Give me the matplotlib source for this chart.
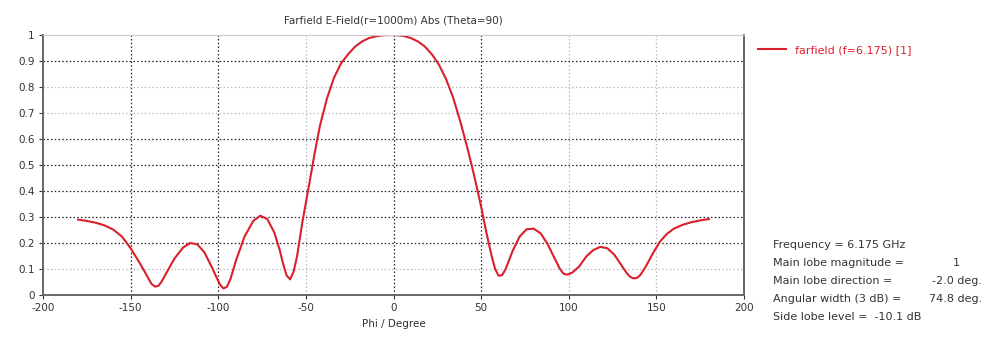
import numpy as np
import matplotlib
matplotlib.use("Agg")
import matplotlib.pyplot as plt

# farfield cut
phi = [-180, -175, -170, -165, -160, -155, -150, -145, -142, -140, -138, -136, -134,
       -132, -130, -125, -120, -116, -112, -108, -104, -101, -99, -97, -95, -93, -90,
       -85, -80, -76, -72, -68, -65, -63, -61, -59, -57, -55, -52, -48, -45, -42, -38,
       -34, -30, -26, -22, -18, -14, -10, -6, -2, 2, 6, 10, 14, 18, 22, 26, 30, 34, 38,
       42, 46, 50, 53, 56, 58, 60, 62, 64, 68, 72, 76, 80, 84, 88, 92, 95, 97, 99, 102,
       106, 110, 114, 118, 122, 126, 130, 133, 135, 137, 139, 141, 144, 148, 152, 156,
       160, 165, 170, 175, 180]
efield = [0.290, 0.285, 0.278, 0.268, 0.252, 0.225, 0.180, 0.125, 0.090, 0.065, 0.042,
          0.032, 0.036, 0.055, 0.080, 0.140, 0.183, 0.200, 0.195, 0.165, 0.112, 0.068,
          0.040, 0.025, 0.032, 0.062, 0.130, 0.225, 0.285, 0.305, 0.292, 0.240, 0.175,
          0.120, 0.075, 0.060, 0.090, 0.150, 0.280, 0.430, 0.545, 0.650, 0.755, 0.835,
          0.890, 0.925, 0.955, 0.975, 0.988, 0.995, 0.999, 1.000, 0.999, 0.996, 0.988,
          0.975, 0.955, 0.925, 0.885, 0.830, 0.760, 0.670, 0.570, 0.460, 0.340, 0.240,
          0.150, 0.100, 0.074, 0.076, 0.100, 0.170, 0.225, 0.253, 0.255, 0.237, 0.195,
          0.140, 0.100, 0.082, 0.078, 0.086, 0.110, 0.148, 0.173, 0.185, 0.180, 0.155,
          0.115, 0.085, 0.070, 0.064, 0.066, 0.078, 0.110, 0.160, 0.205, 0.235, 0.255,
          0.270, 0.280, 0.287, 0.292]

xticks = [-200, -150, -100, -50, 0, 50, 100, 150, 200]
yticks = [0, 0.1, 0.2, 0.3, 0.4, 0.5, 0.6, 0.7, 0.8, 0.9, 1]
ytick_labels = ["0", "0.1", "0.2", "0.3", "0.4", "0.5", "0.6", "0.7", "0.8", "0.9", "1"]

info_labels = ["Frequency = 6.175 GHz", "Main lobe magnitude =", "Main lobe direction =",
               "Angular width (3 dB) =", "Side lobe level ="]
info_values = ["", "1", "-2.0 deg.", "74.8 deg.", "-10.1 dB"]

plt.rcParams['font.family'] = ['DejaVu Sans']
txt = '#333333'
red = '#d9202c'

fig = plt.figure(figsize=(9.85, 3.38), dpi=100)
ax = fig.add_axes([43/985, 43/338, 701/985, 260/338])

ax.plot(phi, efield, color=red, lw=1.5, label='farfield (f=6.175) [1]',
        solid_joinstyle='round')

ax.set_xlim(-200, 200)
ax.set_ylim(0, 1)
ax.set_xticks(xticks)
ax.set_xticklabels([str(t) for t in xticks])
ax.set_yticks(yticks)
ax.set_yticklabels(ytick_labels)
ax.tick_params(labelsize=7.5, colors=txt, length=3, width=0.8, pad=3)

# dotted grid, some lines darker than others as in the picture
dark_x = [-150, -100, 0, 50]
for t in xticks[1:-1]:
    c = '#222222' if t in dark_x else '#bbbbbb'
    ax.axvline(t, color=c, ls=(0, (1.2, 1.8)), lw=0.9, zorder=0)
dark_y = [0.2, 0.3, 0.4, 0.5, 0.6, 0.9]
for t in yticks[1:-1]:
    c = '#222222' if t in dark_y else '#bbbbbb'
    ax.axhline(t, color=c, ls=(0, (1.2, 1.8)), lw=0.9, zorder=0)

for s in ['left', 'bottom', 'right']:
    ax.spines[s].set_color('#666666')
    ax.spines[s].set_linewidth(1.4)
ax.spines['top'].set_color('#cccccc')
ax.spines['top'].set_linewidth(0.8)

ax.set_title("Farfield E-Field(r=1000m) Abs (Theta=90)", fontsize=7.5, color=txt, pad=8)
ax.set_xlabel("Phi / Degree", fontsize=7.5, color=txt, labelpad=4)

leg = ax.legend(loc='upper left', bbox_to_anchor=(1.005, 1.0), frameon=False,
                fontsize=8, handlelength=2.6, handletextpad=0.8)
for t in leg.get_texts():
    t.set_color(red)

# info block: label column, values right-aligned except the last (inline)
val_x = [None, 960, 982, 982, None]
for i, (lab, val) in enumerate(zip(info_labels, info_values)):
    y = 245 + i * 18
    if val and val_x[i] is None:
        lab = lab + "  " + val
    fig.text(773/985, 1 - y/338, lab, fontsize=8, color=txt, va='center', ha='left')
    if val and val_x[i] is not None:
        fig.text(val_x[i]/985, 1 - y/338, val, fontsize=8, color=txt,
                 va='center', ha='right')

fig.savefig("out.png", dpi=100)
